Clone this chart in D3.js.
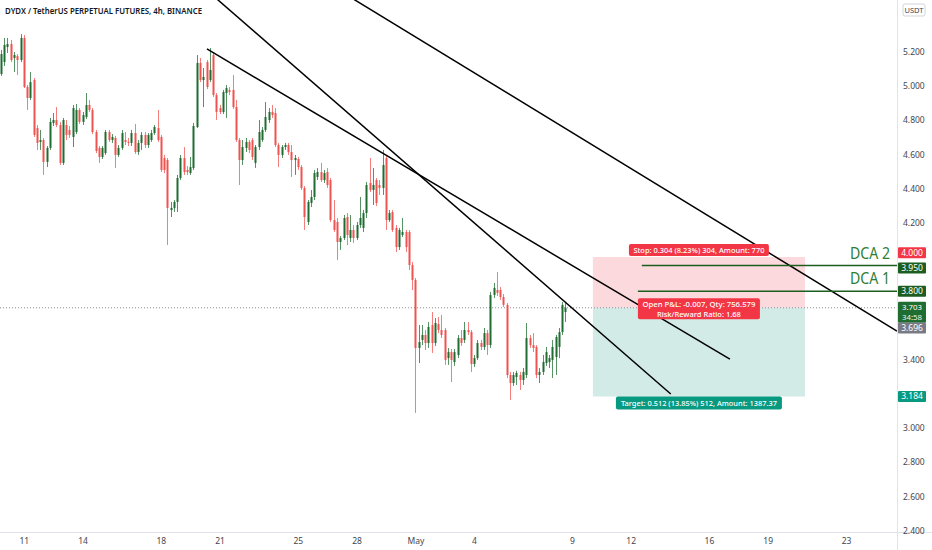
<!DOCTYPE html>
<html><head><meta charset="utf-8">
<script src="https://cdn.jsdelivr.net/npm/d3@7"></script>
<style>html,body{margin:0;padding:0;background:#fff;}svg{display:block;font-family:"Noto Sans",sans-serif;}</style>
</head><body><svg id="c" width="932" height="550"></svg>
<script>
// ---- data (4h candles, DYDX/USDT perp) ----
const firstCandle = "2022-04-09 20:00";
const open = [5.070,5.140,5.228,5.246,5.164,5.175,5.152,5.281,4.994,4.930,
5.035,4.754,4.673,4.684,4.556,4.638,4.784,4.801,4.772,4.550,
4.772,4.743,4.702,4.731,4.860,4.790,4.819,4.889,4.860,4.731,
4.638,4.585,4.608,4.731,4.684,4.696,4.597,4.638,4.684,4.673,
4.667,4.725,4.614,4.667,4.714,4.655,
4.684,4.725,4.754,4.702,4.579,4.567,4.275,4.287,4.322,4.462,
4.579,4.509,4.491,4.520,4.760,5.135,5.035,5.140,5.035,5.181,
4.947,4.871,4.848,4.959,4.977,4.977,4.877,4.684,4.567,4.638,
4.673,4.684,4.550,4.643,4.684,4.743,4.801,4.848,4.842,4.655,
4.597,4.643,4.655,
4.614,4.567,4.573,4.526,4.404,4.205,4.316,4.351,4.468,4.497,
4.450,4.497,4.450,4.216,4.205,4.088,4.111,4.234,4.111,4.158,
4.111,4.187,4.170,4.257,4.433,4.392,4.450,4.421,4.404,4.579,
4.216,4.263,4.170,4.058,4.129,4.146,4.146,3.953,
3.866,3.468,3.515,3.544,3.497,3.602,3.497,3.608,3.573,3.573,
3.409,3.444,3.386,3.427,3.526,3.515,3.573,3.561,3.374,3.409,
3.497,3.474,3.555,3.485,3.778,3.807,3.807,3.766,3.720,3.310,
3.263,3.298,3.310,3.281,3.310,3.526,3.485,3.474,3.310,3.328,
3.380,3.386,3.398,3.415,3.474,3.561,3.678];
const high = [5.211,5.281,5.281,5.269,5.199,5.187,5.304,5.298,5.006,5.082,
5.047,4.772,4.743,4.696,4.649,4.813,4.842,4.877,4.790,4.813,
4.801,4.766,4.889,4.895,4.871,4.848,4.959,4.918,4.871,4.743,
4.649,4.649,4.743,4.743,4.719,4.708,4.655,4.743,4.731,4.696,
4.743,4.778,4.684,4.731,4.731,4.725,
4.743,4.772,4.860,4.714,4.597,4.579,4.322,4.333,4.480,4.597,
4.643,4.532,4.585,4.784,5.181,5.164,5.105,5.152,5.222,5.193,
4.959,4.889,4.977,5.006,4.994,5.064,4.918,4.696,4.684,4.696,
4.684,4.696,4.655,4.801,4.760,4.906,4.871,4.889,4.871,4.667,
4.655,4.667,4.667,
4.655,4.597,4.585,4.538,4.415,4.333,4.392,4.509,4.520,4.550,
4.509,4.520,4.462,4.333,4.228,4.123,4.246,4.257,4.246,4.187,
4.205,4.351,4.275,4.439,4.579,4.520,4.462,4.450,4.626,4.597,
4.275,4.275,4.187,4.170,4.228,4.158,4.158,3.971,
3.877,3.602,3.602,3.573,3.620,3.678,3.643,3.649,3.661,3.585,
3.468,3.462,3.462,3.544,3.573,3.620,3.620,3.573,3.427,3.515,
3.515,3.585,3.573,3.796,3.848,3.912,3.825,3.784,3.731,3.328,
3.328,3.334,3.328,3.351,3.614,3.544,3.555,3.485,3.351,3.427,
3.474,3.427,3.515,3.544,3.585,3.737,3.737];
const low = [5.059,5.117,5.193,5.140,5.082,5.064,5.140,4.988,4.860,4.918,
4.702,4.626,4.626,4.480,4.526,4.626,4.766,4.760,4.538,4.538,
4.684,4.696,4.643,4.719,4.778,4.772,4.807,4.848,4.719,4.608,
4.550,4.573,4.597,4.673,4.667,4.521,4.585,4.626,4.655,4.649,
4.649,4.603,4.597,4.626,4.638,4.638,
4.673,4.714,4.673,4.497,4.491,4.070,4.234,4.263,4.263,4.450,
4.480,4.480,4.480,4.509,4.754,5.023,4.877,4.982,5.023,4.936,
4.801,4.836,4.836,4.813,4.947,4.866,4.673,4.421,4.538,4.614,
4.608,4.567,4.521,4.626,4.673,4.731,4.784,4.813,4.643,4.526,
4.579,4.626,4.597,
4.468,4.480,4.509,4.392,4.158,4.187,4.292,4.333,4.450,4.439,
4.433,4.404,4.205,4.146,3.982,4.041,4.099,4.070,4.088,4.082,
4.099,4.170,4.146,4.228,4.380,4.304,4.298,4.363,4.363,4.158,
4.205,4.146,4.029,4.041,4.117,4.029,3.924,3.807,
3.088,3.380,3.485,3.456,3.468,3.439,3.480,3.555,3.526,3.369,
3.369,3.269,3.363,3.409,3.480,3.497,3.544,3.328,3.357,3.398,
3.456,3.456,3.427,3.468,3.760,3.772,3.749,3.708,3.292,3.164,
3.246,3.252,3.222,3.252,3.292,3.468,3.444,3.292,3.263,3.310,
3.363,3.351,3.292,3.310,3.409,3.544,3.620];
const close = [5.187,5.240,5.246,5.152,5.181,5.152,5.281,4.994,4.930,5.023,
4.714,4.667,4.684,4.556,4.638,4.790,4.801,4.772,4.550,4.801,
4.714,4.714,4.871,4.860,4.790,4.830,4.889,4.860,4.731,4.620,
4.585,4.638,4.731,4.684,4.702,4.597,4.638,4.725,4.673,4.667,
4.725,4.614,4.667,4.714,4.655,4.714,
4.725,4.760,4.684,4.509,4.509,4.287,4.287,4.322,4.462,4.579,
4.497,4.497,4.526,4.766,5.135,5.035,5.053,4.994,5.094,4.947,
4.848,4.848,4.965,4.988,4.965,4.877,4.684,4.567,4.643,4.673,
4.626,4.585,4.643,4.731,4.743,4.819,4.848,4.830,4.655,4.597,
4.643,4.655,4.614,
4.567,4.579,4.526,4.404,4.234,4.322,4.351,4.491,4.497,4.450,
4.491,4.421,4.216,4.158,4.088,4.111,4.228,4.129,4.158,4.111,
4.187,4.228,4.257,4.421,4.392,4.421,4.316,4.404,4.538,4.216,
4.257,4.158,4.058,4.158,4.146,4.058,3.953,3.866,
3.468,3.503,3.544,3.497,3.591,3.497,3.614,3.573,3.544,3.398,
3.444,3.398,3.444,3.526,3.497,3.573,3.561,3.374,3.409,3.497,
3.474,3.555,3.485,3.778,3.819,3.790,3.766,3.720,3.310,3.263,
3.310,3.322,3.281,3.328,3.526,3.485,3.468,3.310,3.328,3.386,
3.444,3.409,3.474,3.532,3.561,3.720,3.703];

const dateTicks = ["2022-04-11","2022-04-14","2022-04-18","2022-04-21","2022-04-25","2022-04-28",
  "2022-05-01","2022-05-04","2022-05-09","2022-05-12","2022-05-16","2022-05-19","2022-05-23"];
// visible price-scale ticks (others are hidden behind price labels)
const priceTicks = [5.2,5.0,4.8,4.6,4.4,4.2,3.4,3.0,2.8,2.6,2.4];

// trend lines [time, price]
const trendLines = [
  [["2022-04-20 08:30",5.217],["2022-05-17 01:40",3.403]],
  [["2022-04-20 12:00",5.545],["2022-05-14 01:10",3.199]],
  [["2022-04-27 12:00",5.532],["2022-05-25 14:30",3.567]]
];
// long position tool
const posStart = "2022-05-10 01:40", posEnd = "2022-05-20 21:40";
const stopPrice = 4.000, entryPrice = 3.703, targetPrice = 3.184;
const dcaLevels = [{name:"DCA 2", price:3.950, from:"2022-05-12 13:40"},
                   {name:"DCA 1", price:3.800, from:"2022-05-12 08:50"}];
const lastPrice = 3.703;
const axisLabels = [
  {v:"4.000", y:4.025, bg:"#f23645"},
  {v:"3.950", y:3.935, bg:"#1b5e20"},
  {v:"3.800", y:3.800, bg:"#1b5e20"},
  {v:"3.703", y:3.703, bg:"#1f6d31", sub:"34:58"},
  {v:"3.696", y:3.585, bg:"#787b86"},
  {v:"3.184", y:3.184, bg:"#089981"}
];

// ---- drawing ----
const W = 932, H = 550, plotR = 897, plotB = 532;
const svg = d3.select("#c");
const pt = d3.utcParse("%Y-%m-%d %H:%M"), pd = d3.utcParse("%Y-%m-%d");
const x = d3.scaleUtc().domain([pd("2022-04-11"), pd("2022-05-23")]).range([23.8, 846]);
const y = d3.scaleLinear().domain([3, 5]).range([428, 86]);
const t0 = pt(firstCandle).getTime();
const candles = open.map((o,i)=>({t:new Date(t0 + i*4*3600e3), o, h:high[i], l:low[i], c:close[i]}));

svg.append("defs").append("clipPath").attr("id","plot").append("rect")
  .attr("x",0).attr("y",0).attr("width",plotR).attr("height",plotB);
const plot = svg.append("g").attr("clip-path","url(#plot)");

// position boxes
const px0 = x(pt(posStart)), px1 = x(pt(posEnd));
plot.append("rect").attr("x",px0).attr("width",px1-px0).attr("y",y(stopPrice)).attr("height",y(entryPrice)-y(stopPrice)).attr("fill","#fcd9dc");
plot.append("rect").attr("x",px0).attr("width",px1-px0).attr("y",y(entryPrice)).attr("height",y(targetPrice)-y(entryPrice)).attr("fill","#d2ebe6");

// last price dotted line
plot.append("line").attr("x1",0).attr("x2",plotR).attr("y1",y(lastPrice)).attr("y2",y(lastPrice))
  .attr("stroke","#8a8d96").attr("stroke-width",1).attr("stroke-dasharray","1,2");

// candles
const green = "#1f6d31", red = "#ef5350";
const cg = plot.append("g");
candles.forEach(d=>{
  const col = d.c >= d.o ? green : red;
  const cx = Math.round(x(d.t)) + 0.5;
  const hi = Math.max(d.h,d.o,d.c), lo = Math.min(d.l,d.o,d.c);
  cg.append("line").attr("x1",cx).attr("x2",cx).attr("y1",y(hi)).attr("y2",y(lo)).attr("stroke",col).attr("stroke-opacity",0.75).attr("stroke-width",1);
  const top = y(Math.max(d.o,d.c)), bot = y(Math.min(d.o,d.c));
  cg.append("rect").attr("x",cx-1).attr("width",2).attr("y",top).attr("height",Math.max(1,bot-top)).attr("fill",col);
});

// trend lines
trendLines.forEach(l=>{
  plot.append("line").attr("x1",x(pt(l[0][0]))).attr("y1",y(l[0][1]))
    .attr("x2",x(pt(l[1][0]))).attr("y2",y(l[1][1]))
    .attr("stroke","#000").attr("stroke-width",1.5);
});

// DCA lines
dcaLevels.forEach(d=>{
  plot.append("line").attr("x1",x(pt(d.from))).attr("x2",plotR).attr("y1",y(d.price)).attr("y2",y(d.price))
    .attr("stroke","#1b5e20").attr("stroke-width",1.5);
  svg.append("text").attr("x",850).attr("y",y(d.price)-7).attr("fill","#2e7d32")
    .attr("font-size",16.5).attr("textLength",40).attr("lengthAdjust","spacingAndGlyphs").text(d.name);
});

// position labels
function tag(cx, cy, w, h, bg, lines, lens){
  const g = svg.append("g");
  g.append("rect").attr("x",cx-w/2).attr("y",cy-h/2).attr("width",w).attr("height",h).attr("rx",2).attr("fill",bg);
  const n = lines.length;
  lines.forEach((s,i)=>{
    g.append("text").attr("x",cx).attr("y",cy + (i-(n-1)/2)*10 + 3).attr("text-anchor","middle")
      .attr("fill","#fff").attr("font-size",7.8).attr("font-weight",500)
      .attr("textLength",lens[i]).attr("lengthAdjust","spacingAndGlyphs").text(s);
  });
}
const pmid = (px0+px1)/2;
tag(pmid, y(stopPrice)-7, 140, 12, "#f23645", ["Stop: 0.304 (8.23%) 304, Amount: 770"], [131]);
tag(pmid, y(entryPrice)+1, 122, 21, "#f23645", ["Open P&L: -0.007, Qty: 756.579","Risk/Reward Ratio: 1.68"], [113, 84]);
tag(pmid, y(targetPrice)+6.5, 166, 13, "#089981", ["Target: 0.512 (13.85%) 512, Amount: 1387.37"], [156]);

// axes frame
svg.append("line").attr("x1",plotR+0.5).attr("x2",plotR+0.5).attr("y1",0).attr("y2",H).attr("stroke","#e0e3eb");
svg.append("line").attr("x1",0).attr("x2",W).attr("y1",plotB+0.5).attr("y2",plotB+0.5).attr("stroke","#e0e3eb");

// x axis
const xa = svg.append("g").attr("transform",`translate(0,${plotB})`)
  .call(d3.axisBottom(x).tickValues(dateTicks.map(pd)).tickSize(0).tickPadding(6)
    .tickFormat(d=> d.getUTCDate()===1 ? "May" : d3.utcFormat("%-d")(d)));
xa.select(".domain").remove();
xa.selectAll("text").attr("fill","#434651").attr("font-size",8.5).attr("font-family","Noto Sans, sans-serif").attr("dy","0.65em");

// y axis
const ya = svg.append("g").attr("transform",`translate(${plotR},0)`)
  .call(d3.axisRight(y).tickValues(priceTicks).tickSize(0).tickPadding(6).tickFormat(d3.format(".3f")));
ya.select(".domain").remove();
ya.selectAll("text").attr("fill","#434651").attr("font-size",8.5).attr("font-family","Noto Sans, sans-serif");

// axis price labels
axisLabels.forEach(a=>{
  const cy = y(a.y);
  const h = a.sub ? 21 : 11;
  const top = a.sub ? cy-6 : cy-h/2;
  svg.append("rect").attr("x",plotR+1).attr("y",top).attr("width",28).attr("height",h).attr("fill",a.bg).attr("rx",1);
  svg.append("text").attr("x",plotR+15).attr("y",top+8.3).attr("text-anchor","middle").attr("fill","#fff").attr("font-size",a.sub?7.8:8.5).text(a.v);
  if(a.sub) svg.append("text").attr("x",plotR+15).attr("y",top+18.3).attr("text-anchor","middle").attr("fill","#e8f5e9").attr("font-size",7.8).text(a.sub);
});

// USDT box
svg.append("rect").attr("x",903).attr("y",4).attr("width",22).attr("height",12).attr("fill","#fff").attr("stroke","#d1d4dc").attr("rx",2);
svg.append("text").attr("x",914).attr("y",13).attr("text-anchor","middle").attr("fill","#434651").attr("font-size",7.5).text("USDT");

// title
svg.append("text").attr("x",5).attr("y",14).attr("fill","#131722").attr("font-size",9.5).attr("font-weight",600)
  .attr("textLength",197).attr("lengthAdjust","spacingAndGlyphs").text("DYDX / TetherUS PERPETUAL FUTURES, 4h, BINANCE");
</script></body></html>
